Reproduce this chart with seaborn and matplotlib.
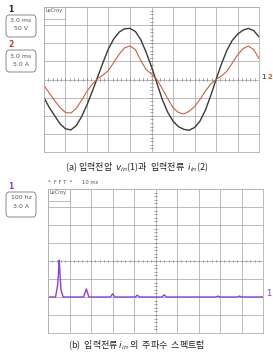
import numpy as np
import pandas as pd
import seaborn as sns
import matplotlib
matplotlib.use("Agg")
import matplotlib.pyplot as plt
from matplotlib.patches import FancyBboxPatch

sns.set_theme(style="white")
plt.rcParams['font.family'] = ['Noto Sans CJK KR', 'DejaVu Sans']

# ---- data (divisions) ----
t_v = [0, 0.25, 0.5, 0.75, 1.0, 1.25, 1.5, 1.75, 2.0, 2.25, 2.5, 2.75, 3.0, 3.25, 3.5, 3.75, 4.0, 4.25, 4.5, 4.75,
       5.0, 5.25, 5.5, 5.75, 6.0, 6.25, 6.5, 6.75, 7.0, 7.25, 7.5, 7.75, 8.0, 8.25, 8.5, 8.75, 9.0, 9.25, 9.5, 9.75, 10.0]
v_in = [-1.0, -1.55, -2.0, -2.45, -2.72, -2.78, -2.55, -2.05, -1.4, -0.65, 0.15, 0.95, 1.7, 2.25, 2.62, 2.8, 2.82, 2.65, 2.2, 1.5,
        0.7, -0.2, -1.1, -1.8, -2.3, -2.6, -2.75, -2.8, -2.65, -2.3, -1.7, -0.9, 0.0, 0.85, 1.6, 2.15, 2.5, 2.72, 2.82, 2.7, 2.35]
t_i = t_v
i_in = [-0.33, -0.75, -1.17, -1.55, -1.82, -1.85, -1.6, -1.15, -0.65, -0.25, 0.05, 0.25, 0.5, 0.95, 1.4, 1.75, 1.85, 1.65, 1.05, 0.55,
        0.3, 0.0, -0.5, -1.05, -1.55, -1.82, -1.9, -1.75, -1.5, -1.1, -0.65, -0.25, 0.0, 0.2, 0.45, 0.9, 1.35, 1.7, 1.85, 1.65, 1.15]

f_fft = [0, 0.35, 0.45, 0.5, 0.52, 0.55, 0.6, 0.7, 1.65, 1.78, 1.9, 2.9, 3.0, 3.1, 4.05, 4.15, 4.25, 5.3, 5.4, 5.5, 7.8, 7.9, 8.0, 8.8, 8.9, 9.0, 10.0]
a_fft = [-2.0, -2.0, -1.3, -0.4, 0.05, -0.6, -1.6, -2.0, -2.0, -1.55, -2.0, -2.0, -1.82, -2.0, -2.0, -1.9, -2.0, -2.0, -1.88, -2.0, -2.0, -1.95, -2.0, -2.0, -1.95, -2.0, -2.0]

volt = pd.DataFrame({"t": t_v, "v": v_in})
curr = pd.DataFrame({"t": t_i, "i": i_in})
spec = pd.DataFrame({"f": f_fft, "a": a_fft})

fig = plt.figure(figsize=(2.73, 3.54), dpi=100)
ax1 = fig.add_axes([0.161, 0.5706, 0.788, 0.4096])
ax2 = fig.add_axes([0.176, 0.0593, 0.788, 0.4068])

def scope(ax):
    ax.set_xlim(0, 10)
    ax.set_ylim(-4, 4)
    ax.set_xticks(range(11))
    ax.set_yticks(range(-4, 5))
    ax.grid(True, color="#b0b0b0", lw=0.6)
    ax.tick_params(length=0, labelbottom=False, labelleft=False)
    for s in ax.spines.values():
        s.set_color("#b0b0b0")
        s.set_linewidth(0.6)
    for x in np.arange(0.2, 10, 0.2):
        ax.plot([x, x], [-0.08, 0.08], color="#8a8a8a", lw=0.5)
    for y in np.arange(-3.8, 4, 0.2):
        ax.plot([4.93, 5.07], [y, y], color="#8a8a8a", lw=0.5)
    ax.text(0.05, 3.93, "LeCroy", fontsize=3.6, color="#555555", va="top", ha="left",
            family="DejaVu Sans")
    ax.plot([0, 1, 1], [3.35, 3.35, 4], color="#b0b0b0", lw=0.6)

scope(ax1)
sns.lineplot(data=volt, x="t", y="v", ax=ax1, color="#3a3a3a", lw=1.0)
sns.lineplot(data=curr, x="t", y="i", ax=ax1, color="#c8603f", lw=0.8)
ax1.set_xlabel(""); ax1.set_ylabel("")

scope(ax2)
sns.lineplot(data=spec, x="f", y="a", ax=ax2, color="#8a3ee0", lw=1.0)
ax2.set_xlabel(""); ax2.set_ylabel("")

def box(y0, h, num, numcol, lines):
    p = FancyBboxPatch((6 / 273, 1 - (y0 + h) / 354), 30 / 273, h / 354,
                       boxstyle="round,pad=0,rounding_size=0.012",
                       transform=fig.transFigure, fc="white", ec="#777777", lw=0.6)
    fig.patches.append(p)
    fig.text(11 / 273, 1 - (y0 - 1) / 354, num, color=numcol, fontsize=5.5,
             fontweight="bold", ha="center", va="bottom", family="DejaVu Sans")
    for k, s in enumerate(lines):
        fig.text(21 / 273, 1 - (y0 + 6 + k * 8) / 354, s, fontsize=4.5,
                 color="#555555", ha="center", va="center", family="DejaVu Sans")

box(15, 22, "1", "#222222", ["3.0 ms", "50 V"])
box(50, 22, "2", "#c04020", ["3.0 ms", "5.0 A"])
box(192, 25, "1", "#8a3ee0", ["100 hz", "3.0 A"])

fig.text(261 / 273, 1 - 80 / 354, "1", fontsize=5, color="#222222", ha="left", va="bottom", family="DejaVu Sans")
fig.text(267 / 273, 1 - 80 / 354, "2", fontsize=5, color="#c8603f", ha="left", va="bottom",
         fontweight="bold", family="DejaVu Sans")
fig.text(266 / 273, 1 - 294 / 354, "1", fontsize=6, color="#8a3ee0", ha="left", va="center", family="DejaVu Sans")

fig.text(48 / 273, 1 - 183 / 354, "*  F F T  *      10 ms", fontsize=3.8, color="#555555",
         ha="left", va="center", family="DejaVu Sans")

fig.text(0.5, 1 - 167 / 354, "(a) 입력전압  $v_{in}$(1)과  입력전류  $i_{in}$(2)",
         fontsize=6.5, ha="center", va="center", color="#222222")
fig.text(0.5, 1 - 345 / 354, "(b)  입력전류 $i_{in}$ 의  주파수  스펙트럼",
         fontsize=6.5, ha="center", va="center", color="#222222")

fig.savefig("out.png", dpi=100)
